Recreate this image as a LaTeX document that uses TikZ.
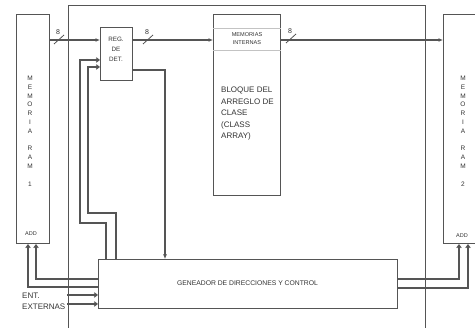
\documentclass[tikz,border=0pt]{standalone}
\usepackage{fontspec}
\setmainfont{Liberation Sans}
\usetikzlibrary{arrows.meta}
\definecolor{ln}{HTML}{555555}
\definecolor{tx}{HTML}{333333}
\begin{document}
\begin{tikzpicture}[x=1pt,y=-1pt,
  line/.style={draw=ln, line width=1.05pt},
  box/.style={line, fill=white, inner sep=0pt, anchor=north west},
  txt/.style={text=tx, inner sep=0pt},
  slash/.style={draw=ln, line width=0.8pt},
  fa/.style={-{Latex[length=4.5pt,width=4pt]}},
  oa/.style={-{Straight Barb[length=3pt,width=4.5pt]}}]
\useasboundingbox (0,0) rectangle (475,328);
% outer frame
\node[box, minimum width=357, minimum height=345] (outer) at (68,5) {};
% boxes
\node[box, minimum width=33, minimum height=229] (ram1) at (16,14) {};
\node[box, minimum width=45, minimum height=229] (ram2) at (443,14) {};
\node[box, minimum width=32, minimum height=53] (reg) at (100,27) {};
\node[box, minimum width=67, minimum height=181] (blq) at (213,14) {};
\node[box, minimum width=299, minimum height=49] (gen) at (98,259) {};
% strip in bloque
\coordinate (s1) at (0,28);
\coordinate (s2) at (0,50);
\draw[draw=ln!35, line width=0.8pt] (blq.west |- s1) -- (blq.east |- s1);
\draw[draw=ln!35, line width=0.8pt] (blq.west |- s2) -- (blq.east |- s2);
% texts
\node[txt, align=center, font=\fontsize{6.5}{8.8}\selectfont] (ram1t) at (30,131) {M\\E\\M\\O\\R\\I\\A\\[8.8pt]R\\A\\M\\[8.8pt]1};
\node[txt, align=center, font=\fontsize{6.5}{8.8}\selectfont] (ram2t) at (463,131) {M\\E\\M\\O\\R\\I\\A\\[8.8pt]R\\A\\M\\[8.8pt]2};
\node[txt, font=\fontsize{5.5}{6}\selectfont] (add1) at (31,234) {ADD};
\node[txt, font=\fontsize{5.5}{6}\selectfont] (add2) at (462,236) {ADD};
\node[txt, align=center, font=\fontsize{6.3}{10}\selectfont] (regt) at (116,49) {REG.\\DE\\DET.};
\node[txt, align=center, font=\fontsize{5.6}{8}\selectfont] (memt) at (247,38.5) {MEMORIAS\\INTERNAS};
\node[txt, align=left, anchor=west, font=\fontsize{8}{11.5}\selectfont] (blqt) at (221,114) {BLOQUE DEL\\ARREGLO DE\\CLASE\\(CLASS\\ARRAY)};
\node[txt, font=\fontsize{6.8}{8}\selectfont] (gent) at (247.5,283) {GENEADOR DE DIRECCIONES Y CONTROL};
\node[txt, align=left, anchor=west, font=\fontsize{8}{11}\selectfont] (entt) at (22,301) {ENT.\\EXTERNAS};
\node[txt, font=\fontsize{7}{8}\selectfont] (n1) at (58,32) {8};
\node[txt, font=\fontsize{7}{8}\selectfont] (n2) at (147,32) {8};
\node[txt, font=\fontsize{7}{8}\selectfont] (n3) at (290,31) {8};
% data bus
\coordinate (d1) at (0,40);
\draw[line,fa] (ram1.east |- d1) -- (reg.west |- d1);
\draw[line,fa] (reg.east |- d1) -- (blq.west |- d1);
\draw[line,fa] (blq.east |- d1) -- (ram2.west |- d1);
\draw[slash] (54,44) -- (64,35);
\draw[slash] (143,44) -- (153,35);
\draw[slash] (286,43) -- (296,34);
% reg to generator
\coordinate (c70) at (165,70);
\draw[line,fa] (reg.east |- c70) -- (c70) -- (gen.north -| c70);
% feedback from generator to reg
\coordinate (fa1) at (80,60);
\coordinate (fb1) at (106,223);
\draw[line,oa] (gen.north -| fb1) -- (fb1) -- (fa1 |- fb1) -- (fa1) -- (reg.west |- fa1);
\coordinate (fa2) at (88,67);
\coordinate (fb2) at (116,213);
\draw[line,oa] (gen.north -| fb2) -- (fb2) -- (fa2 |- fb2) -- (fa2) -- (reg.west |- fa2);
% address to RAM 1
\coordinate (a1) at (36,279);
\coordinate (a2) at (28,287);
\draw[line,oa] (gen.west |- a1) -- (a1) -- (ram1.south -| a1);
\draw[line,oa] (gen.west |- a2) -- (a2) -- (ram1.south -| a2);
% external inputs
\coordinate (e1) at (67,295);
\coordinate (e2) at (67,304);
\draw[line,oa] (e1) -- (gen.west |- e1);
\draw[line,oa] (e2) -- (gen.west |- e2);
% address to RAM 2
\coordinate (b1) at (459,279);
\coordinate (b2) at (468,288);
\draw[line,oa] (gen.east |- b1) -- (b1) -- (ram2.south -| b1);
\draw[line,oa] (gen.east |- b2) -- (b2) -- (ram2.south -| b2);
\end{tikzpicture}
\end{document}
